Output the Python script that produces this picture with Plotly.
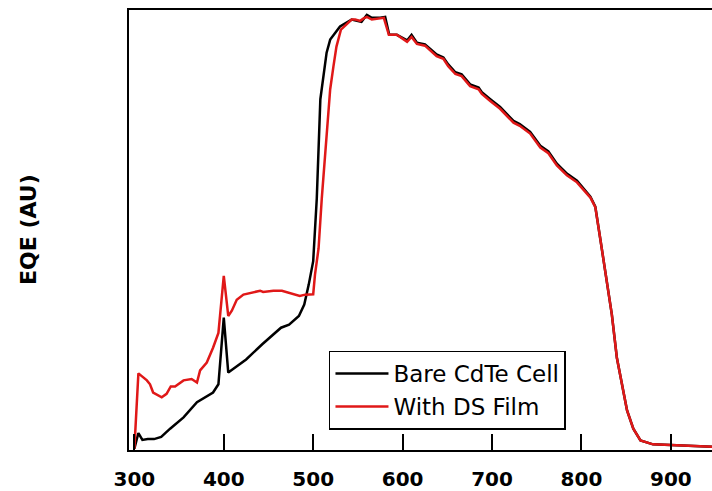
import plotly.graph_objects as go

# Bare CdTe cell EQE (arbitrary units)
bare_wl = [300, 304.5, 309, 315, 322, 330, 340, 355, 370, 388, 394, 400, 405, 425, 443, 464, 473, 484, 490, 495,
           500, 504, 508, 515, 519, 530, 543, 550, 554, 560, 565.5, 575, 580.5, 585, 593.5, 605, 610, 616, 625,
           638, 645.6, 651, 659, 666, 675.5, 685, 688.6, 698, 709, 724, 731, 742.6, 754, 763, 772.5, 783.7, 795,
           810, 815.5, 821, 828, 834, 839.6, 845, 851, 858, 866, 880, 905, 952]
bare_eqe = [0.3, 3.9, 2.3, 2.5, 2.5, 3.0, 4.9, 7.5, 11.0, 13.2, 15.1, 30.4, 17.8, 20.8, 24.3, 28.1, 28.8, 30.8, 33.4, 38.0,
            43.4, 57.8, 80.6, 91.3, 94.3, 97.3, 98.9, 98.6, 98.4, 100.0, 99.3, 99.3, 99.5, 95.4, 95.4, 94.1, 95.4, 93.6, 93.2,
            90.9, 90.2, 88.6, 86.8, 86.3, 84.0, 83.3, 82.2, 80.6, 78.8, 75.6, 74.9, 73.1, 69.9, 68.6, 65.8, 63.5, 61.9,
            58.2, 55.9, 48.6, 38.8, 31.1, 21.2, 15.1, 9.1, 4.9, 2.2, 1.3, 1.1, 0.7]

# With down-shifting film EQE (arbitrary units)
ds_wl = [300, 304.5, 314, 317.5, 321, 330.6, 336, 340.7, 345.5, 355, 364, 370, 373.5, 381, 388, 394, 400, 405, 409,
         414.5, 422, 429, 440.6, 444, 455.5, 465, 474, 485, 491, 500, 502, 506, 509.6, 515, 519, 522.6, 526, 531,
         536, 543, 547, 552.5, 556, 560, 565.5, 579, 584.6, 593.5, 605, 610, 616, 625,
         638, 645.6, 651, 659, 666, 675.5, 685, 688.6, 698, 709, 724, 731, 742.6, 754, 763, 772.5, 783.7, 795,
         810, 815.5, 821, 828, 834, 839.6, 845, 851, 858, 866, 880, 905, 952]
ds_eqe = [0.3, 17.6, 16.0, 15.1, 13.2, 12.1, 12.9, 14.6, 14.6, 16.0, 16.3, 15.5, 18.3, 20.1, 23.5, 26.9, 40.0, 30.8, 32.0,
          34.5, 35.7, 36.1, 36.6, 36.3, 36.6, 36.6, 36.1, 35.4, 35.7, 35.8, 40.3, 46.3, 57.8, 73.1, 82.9, 88.1, 92.7, 96.6,
          97.5, 98.9, 98.9, 98.6, 99.1, 99.5, 98.9, 99.3, 95.4, 95.4, 93.8, 94.9, 93.3, 92.9,
          90.5, 89.9, 88.2, 86.4, 85.9, 83.6, 82.9, 81.8, 80.2, 78.4, 75.2, 74.5, 72.7, 69.5, 68.2, 65.4, 63.1, 61.5,
          58.0, 55.8, 48.6, 38.8, 31.1, 21.2, 15.1, 9.1, 4.9, 2.2, 1.3, 1.1, 0.7]

x_ticks = [300, 400, 500, 600, 700, 800, 900]

fig = go.Figure()
fig.add_trace(go.Scatter(x=bare_wl, y=bare_eqe, mode="lines", name="Bare CdTe Cell",
                         line=dict(color="black", width=2.5)))
fig.add_trace(go.Scatter(x=ds_wl, y=ds_eqe, mode="lines", name="With DS Film",
                         line=dict(color="#e01818", width=2.5)))

fig.update_layout(
    width=712, height=491,
    margin=dict(l=129, r=0, t=10, b=38),
    paper_bgcolor="white", plot_bgcolor="white",
    font=dict(family="DejaVu Sans", color="black"),
    showlegend=True,
    legend=dict(x=0.343, y=0.226, xanchor="left", yanchor="top",
                bgcolor="white", bordercolor="black", borderwidth=1.5,
                font=dict(size=23, family="DejaVu Sans", color="black"),
                tracegroupgap=0, itemwidth=53),
    xaxis=dict(range=[294, 946], tickvals=x_ticks, ticktext=[str(t) for t in x_ticks],
               ticks="inside", ticklen=16, tickwidth=1.5, tickcolor="black",
               showline=True, linecolor="black", linewidth=2, mirror=True,
               showgrid=False, zeroline=False,
               tickfont=dict(size=20, family="DejaVu Sans", weight="bold", color="black"),
               ticklabelstandoff=10),
    yaxis=dict(range=[0, 101.1], showticklabels=False, ticks="",
               showline=True, linecolor="black", linewidth=2, mirror=False,
               showgrid=False, zeroline=False),
    annotations=[dict(text="<b>EQE (AU)</b>", xref="paper", yref="paper",
                      x=(28 - 129) / 583, y=0.5, xanchor="center", yanchor="middle",
                      textangle=-90, showarrow=False,
                      font=dict(size=22, family="DejaVu Sans", color="black"))],
)

fig.write_html("out.html")
